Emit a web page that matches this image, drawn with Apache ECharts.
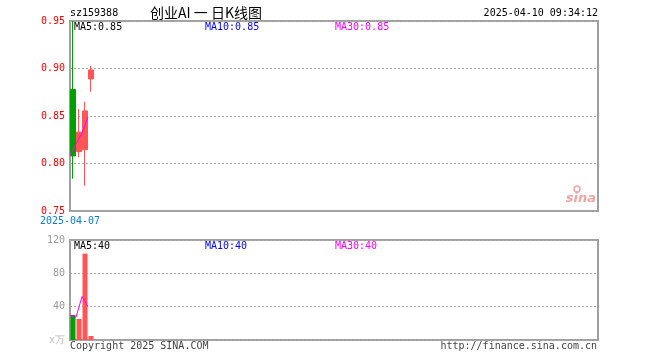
<!DOCTYPE html>
<html><head><meta charset="utf-8">
<script src="https://cdn.jsdelivr.net/npm/echarts@6/dist/echarts.min.js"></script>
<style>html,body{margin:0;padding:0;background:#fff}#c{width:660px;height:360px}</style>
</head><body><div id="c"></div>
<script>
const code = 'sz159388';
const titleText = '创业AI 一 日K线图';
const stamp = '2025-04-10 09:34:12';
const dates = ['2025-04-07', '2025-04-08', '2025-04-09', '2025-04-10'];
const opens  = [0.878, 0.8125, 0.8146, 0.889];
const closes = [0.808, 0.833, 0.8553, 0.8985];
const lows   = [0.784, 0.8066, 0.7766, 0.8756];
const highs  = [0.95, 0.8574, 0.865, 0.9026];
const volumes = [30.1, 25.3, 103.6, 4.8];
const priceMA = [0.808, 0.821, 0.832, 0.849];
const volumeMA = [30.0, 27.3, 52.2, 40.1];
const priceMALabels = ['MA5:0.85', 'MA10:0.85', 'MA30:0.85'];
const volMALabels = ['MA5:40', 'MA10:40', 'MA30:40'];
const priceTicks = [0.75, 0.95, 0.05];   // min, max, step
const volumeTicks = [0, 120, 40];
const SLOTS = 88;

const UP = '#ff5555', DOWN = '#00a000';
const MONO = '"DejaVu Sans Mono", "Liberation Mono", monospace';
const cats = [];
for (let i = 0; i < SLOTS; i++) cats.push(i < dates.length ? dates[i] : '');

const kData = dates.map((d, i) => [opens[i], closes[i], lows[i], highs[i]]);
const volData = volumes.map((v, i) => ({
  value: v, itemStyle: { color: closes[i] >= opens[i] ? UP : DOWN }
}));

function txt(x, y, text, fill, align, font) {
  return { type: 'text', silent: true, z: 20, style: { x, y, text, fill, align: align || 'left', verticalAlign: 'middle', font: font || ('10px ' + MONO) } };
}

const chart = echarts.init(document.getElementById('c'), null, { renderer: 'canvas' });
chart.setOption({
  animation: false,
  backgroundColor: '#fff',
  grid: [
    { left: 70, right: 62, top: 21, height: 190, show: true, borderColor: '#a0a0a0', borderWidth: 2, backgroundColor: 'transparent' },
    { left: 70, right: 62, top: 240, height: 100, show: true, borderColor: '#a0a0a0', borderWidth: 2, backgroundColor: 'transparent' }
  ],
  xAxis: [
    { type: 'category', gridIndex: 0, data: cats, boundaryGap: true, axisLine: { show: false }, axisTick: { show: false }, axisLabel: { show: false }, splitLine: { show: false } },
    { type: 'category', gridIndex: 1, data: cats, boundaryGap: true, axisLine: { show: false }, axisTick: { show: false }, axisLabel: { show: false }, splitLine: { show: false } },
    { type: 'value', gridIndex: 0, position: 'bottom', min: 0, max: SLOTS, interval: SLOTS, axisLine: { show: false }, axisTick: { show: false }, splitLine: { show: false },
      axisLabel: { show: true, margin: 5, color: '#0a7fd0', fontFamily: MONO, fontSize: 10, formatter: v => v === 0 ? dates[0] : '' } },
    { type: 'value', gridIndex: 1, position: 'bottom', min: 0, max: SLOTS, show: false }
  ],
  yAxis: [
    { type: 'value', gridIndex: 0, min: priceTicks[0], max: priceTicks[1], interval: priceTicks[2],
      axisLine: { show: false }, axisTick: { show: false },
      axisLabel: { color: '#ff0000', fontFamily: MONO, fontSize: 10, margin: 5, formatter: v => v.toFixed(2) },
      splitLine: { show: true, lineStyle: { color: '#aaa', type: [2, 2], width: 1 } } },
    { type: 'value', gridIndex: 1, min: volumeTicks[0], max: volumeTicks[1], interval: volumeTicks[2],
      axisLine: { show: false }, axisTick: { show: false },
      axisLabel: { color: '#999', fontFamily: MONO, fontSize: 10, margin: 5,
        formatter: v => v === 0 ? '{u|x万}' : String(v), rich: { u: { color: '#bbb', fontFamily: MONO, fontSize: 10 } } },
      splitLine: { show: true, lineStyle: { color: '#aaa', type: [2, 2], width: 1 } } }
  ],
  series: [
    { type: 'candlestick', xAxisIndex: 0, yAxisIndex: 0, data: kData, barWidth: 5,
      itemStyle: { color: UP, color0: DOWN, borderColor: UP, borderColor0: DOWN, borderWidth: 1 } },
    { type: 'line', xAxisIndex: 2, yAxisIndex: 0, data: priceMA.map((v, i) => [i, v]), symbol: 'none',
      lineStyle: { color: '#ff00ff', width: 1 }, z: 5 },
    { type: 'bar', xAxisIndex: 1, yAxisIndex: 1, data: volData, barWidth: 5 },
    { type: 'line', xAxisIndex: 3, yAxisIndex: 1, data: volumeMA.map((v, i) => [i, v]), symbol: 'none',
      lineStyle: { color: '#ff00ff', width: 1 }, z: 5 }
  ],
  graphic: [
    txt(70, 13, code, '#000'),
    txt(206, 13, titleText, '#000', 'center', '14px "Noto Sans CJK SC", sans-serif'),
    txt(598, 13, stamp, '#000', 'right'),
    txt(74, 27, priceMALabels[0], '#000'),
    txt(205, 27, priceMALabels[1], '#0000ff'),
    txt(335, 27, priceMALabels[2], '#ff00ff'),
    txt(74, 246, volMALabels[0], '#000'),
    txt(205, 246, volMALabels[1], '#0000ff'),
    txt(335, 246, volMALabels[2], '#ff00ff'),
    txt(70, 346, 'Copyright 2025 SINA.COM', '#444'),
    txt(597, 346, 'http://finance.sina.com.cn', '#444', 'right'),
    txt(596, 199, 'sina', '#f3a5a5', 'right', 'italic bold 13px "DejaVu Sans", sans-serif'),
    { type: 'circle', silent: true, shape: { cx: 577, cy: 189, r: 3 }, style: { fill: 'none', stroke: '#f3a5a5', lineWidth: 1.5 } }
  ]
});
</script>
</body></html>
